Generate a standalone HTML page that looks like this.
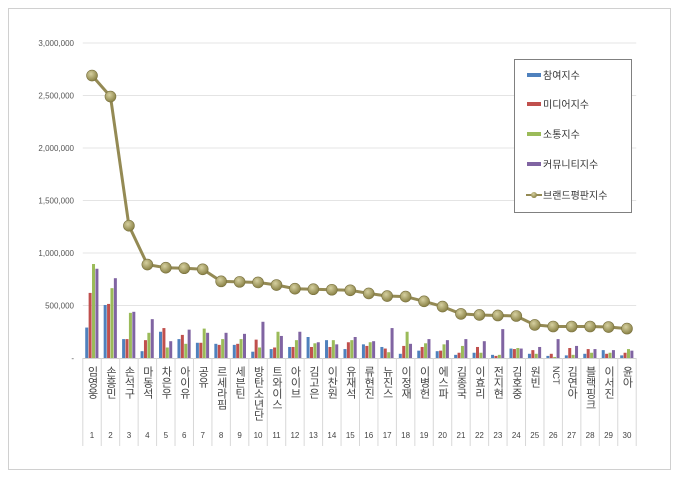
<!DOCTYPE html>
<html><head><meta charset="utf-8"><style>
body{margin:0;background:#fff;width:680px;height:477px;overflow:hidden}
svg text{font-family:"Liberation Sans","Noto Sans CJK KR",sans-serif}
</style></head><body>
<svg id="c" width="680" height="477">
<defs>
<radialGradient id="mk" cx="40%" cy="35%" r="65%"><stop offset="0" stop-color="#d6d0a0"/><stop offset="1" stop-color="#8a8246"/></radialGradient>
</defs>
<rect x="8.5" y="8.5" width="662" height="461" fill="#fff" stroke="#d0d0d0"/>
</svg>
<script>
const names=["임영웅","손흥민","손석구","마동석","차은우","아이유","공유","르세라핌","세븐틴","방탄소년단","트와이스","아이브","김고은","이찬원","유재석","류현진","뉴진스","이정재","이병헌","에스파","김종국","이효리","전지현","김호중","원빈","NCT","김연아","블랙핑크","이서진","윤아"];
const participation=[290000,505000,180000,65000,250000,180000,145000,135000,125000,60000,85000,105000,200000,170000,85000,130000,105000,40000,70000,65000,30000,50000,30000,90000,40000,20000,25000,40000,75000,25000];
const media=[620000,515000,180000,170000,285000,220000,145000,125000,135000,175000,100000,105000,105000,105000,150000,115000,90000,115000,105000,70000,50000,105000,20000,85000,75000,40000,95000,85000,40000,50000];
const communication=[895000,665000,430000,240000,100000,135000,280000,180000,180000,100000,250000,170000,140000,170000,170000,150000,55000,250000,140000,130000,115000,50000,30000,95000,40000,10000,30000,50000,50000,85000];
const community=[850000,760000,440000,370000,160000,270000,240000,240000,230000,345000,210000,250000,150000,130000,200000,160000,285000,135000,180000,170000,180000,160000,275000,90000,105000,180000,115000,85000,75000,70000];
const brand=[2690000,2490000,1260000,890000,860000,855000,845000,730000,725000,720000,695000,660000,655000,650000,645000,615000,590000,585000,540000,490000,420000,410000,405000,400000,315000,300000,300000,300000,295000,280000];
const yTicks=[0,500000,1000000,1500000,2000000,2500000,3000000];
const NS="http://www.w3.org/2000/svg",svg=document.getElementById('c');
const x0=82.8,x1=636.2,yb=358,yt=43,vmax=3000000,step=(x1-x0)/names.length;
const X=i=>x0+step*(i+0.5),Y=v=>yb-(v/vmax)*(yb-yt);
function mk(t,a,p){const e=document.createElementNS(NS,t);for(const k in a)e.setAttribute(k,a[k]);(p||svg).appendChild(e);return e;}
yTicks.forEach(v=>{
  if(v>0){const g=mk('line',{x1:x0,x2:x1,y1:Y(v),y2:Y(v),stroke:'#e4e4e4'});
  
  }
  const t=mk('text',{x:74,y:Y(v)+3,'text-anchor':'end','font-size':'8',fill:'#555'});
  t.textContent=v===0?'-':v.toLocaleString('en-US');
  
  
});
const ax=mk('line',{x1:x0,x2:x1,y1:yb+.5,y2:yb+.5,stroke:'#d0d0d0'});


for(let i=0;i<=names.length;i++){
  const l=mk('line',{x1:x0+step*i,x2:x0+step*i,y1:yb,y2:446,stroke:'#d8d8d8'});
  
  
}
const series=[[participation,'#4f81bd'],[media,'#c0504d'],[communication,'#9bbb59'],[community,'#8064a2']];
const bw=3.4;
names.forEach((n,i)=>{
  series.forEach((s,k)=>{
    const v=s[0][i],x=X(i)-2*bw+k*bw;
    const r=mk('rect',{x:x,y:Y(v),width:bw-0.4,height:yb-Y(v),fill:s[1]});
    
    
  });
  const latin=/^[A-Za-z]+$/.test(n);
  const t=mk('text',{x:X(i),y:366,'font-size':latin?'9':'11',fill:'#444','writing-mode':'tb','text-anchor':'start'});
  t.style.textOrientation=latin?'sideways':'upright';
  t.textContent=n;
  
  
  const nn=mk('text',{x:X(i),y:438,'font-size':'8',fill:'#444','text-anchor':'middle'});
  nn.textContent=String(i+1);
  
  
});
const pl=mk('polyline',{points:brand.map((v,i)=>X(i)+','+Y(v)).join(' '),fill:'none',stroke:'#948a54','stroke-width':3});


brand.forEach((v,i)=>{
  const c=mk('circle',{cx:X(i),cy:Y(v),r:5.5,fill:'url(#mk)',stroke:'#7a7240','stroke-width':0.6});
  
  
});
const lg=mk('g',{});


mk('rect',{x:514.5,y:59.5,width:117,height:153,fill:'#fff',stroke:'#808080'},lg);
const labs=['참여지수','미디어지수','소통지수','커뮤니티지수','브랜드평판지수'];
const ly=[75,104,134,164,195];
labs.forEach((l,k)=>{
  const g=mk('g',{},lg);
  
  
  if(k<4) mk('rect',{x:527,y:ly[k]-2,width:14,height:4,fill:series[k][1]},g);
  else{mk('line',{x1:526,x2:542,y1:ly[k],y2:ly[k],stroke:'#948a54','stroke-width':2},g);mk('circle',{cx:534,cy:ly[k],r:3,fill:'url(#mk)'},g);}
  const t=mk('text',{x:543,y:ly[k]+4,'font-size':'10',fill:'#333'},g);
  t.textContent=l;
});
</script>
</body></html>
